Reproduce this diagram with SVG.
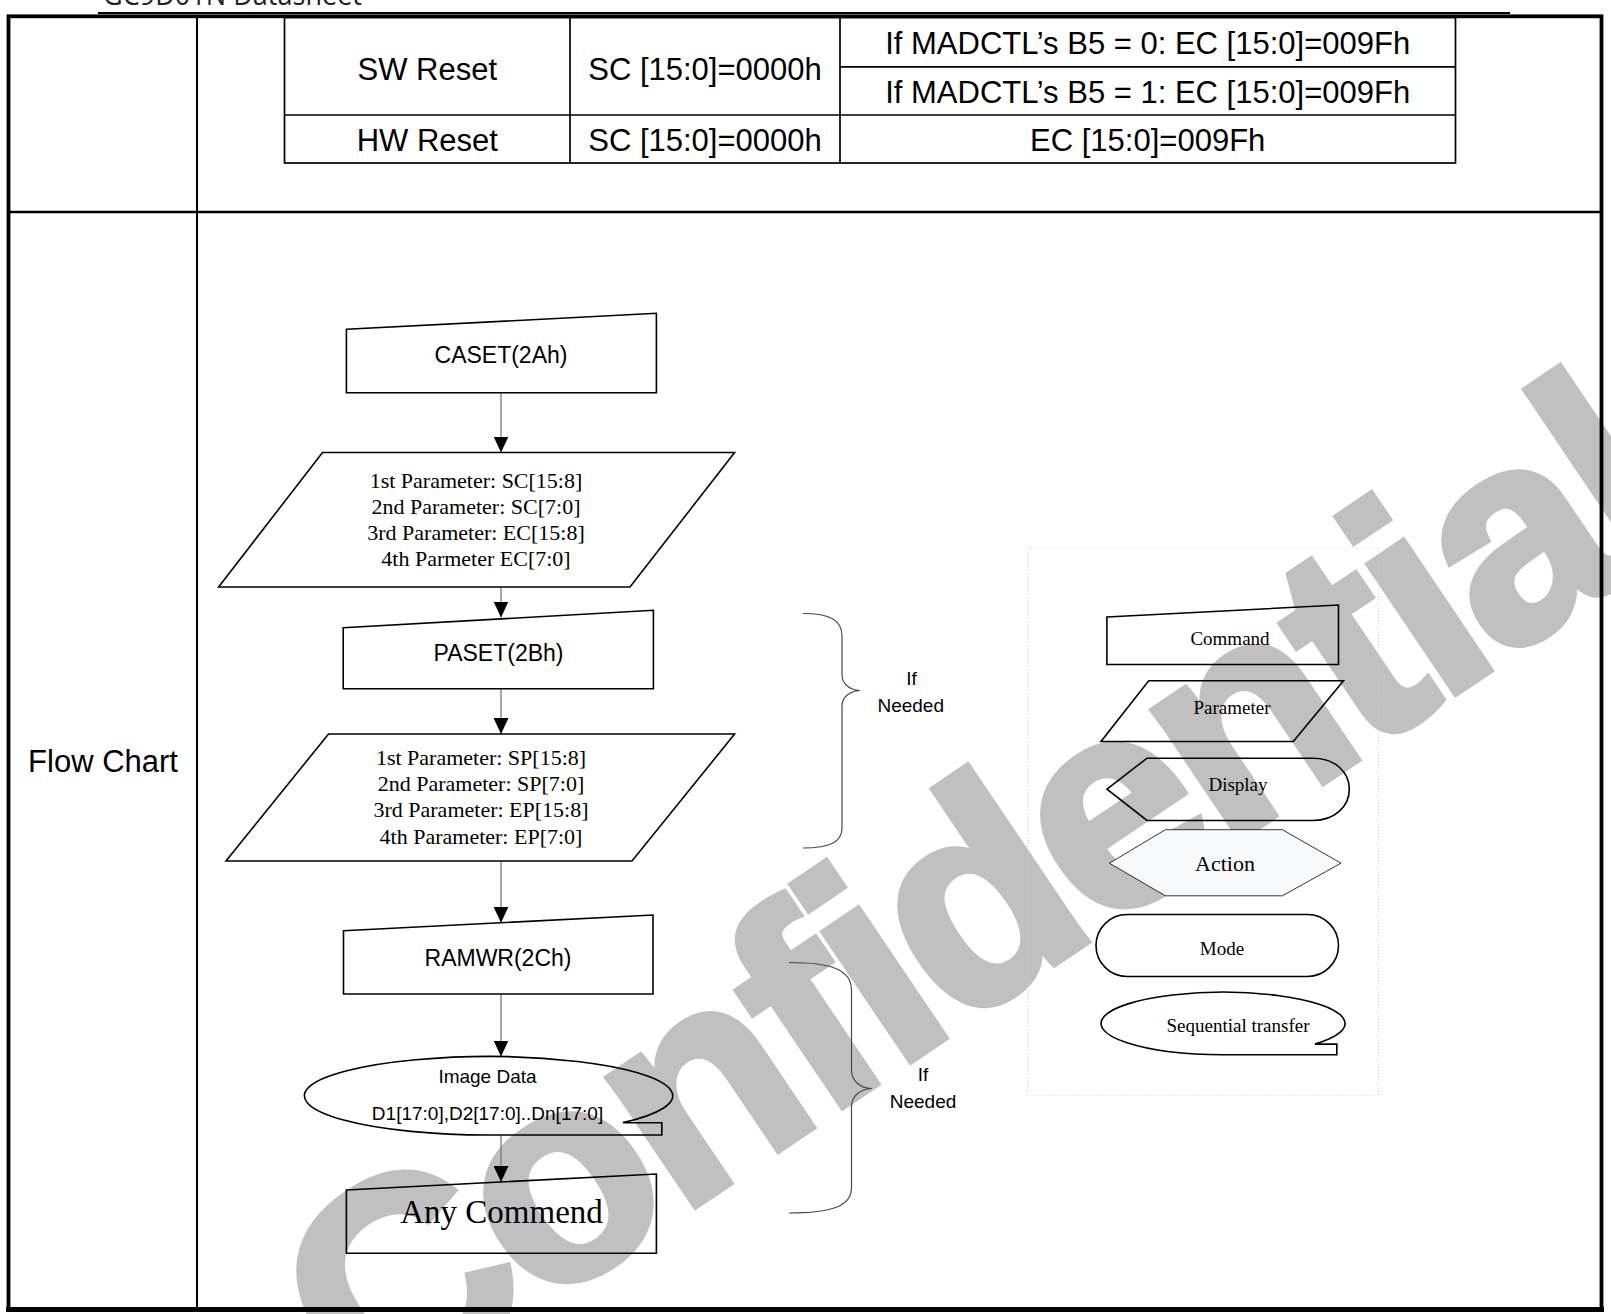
<svg xmlns="http://www.w3.org/2000/svg" width="1611" height="1314" viewBox="0 0 1611 1314">
<style>
.tb{font-family:"Liberation Sans",Arial,sans-serif;font-size:31px;fill:#000;text-anchor:middle}
.ss{font-family:"Liberation Sans",Arial,sans-serif;fill:#000;text-anchor:middle}
.sf{font-family:"Liberation Serif","Times New Roman",serif;fill:#000;text-anchor:middle}
.shape{fill:none;stroke:#000;stroke-width:1.6}
.conn{fill:none;stroke:#7a7a7a;stroke-width:1.3}
.brace{fill:none;stroke:#4a4a4a;stroke-width:1.2}
.tl{fill:none;stroke:#000;stroke-width:1.7}
.wm{font-family:"Liberation Sans",Arial,sans-serif;font-weight:bold;font-size:292px;letter-spacing:-8px;fill:#c0c0c0;stroke:#c0c0c0;stroke-width:8;stroke-linejoin:miter}
</style>
<defs>
<marker id="ah" markerUnits="userSpaceOnUse" markerWidth="16" markerHeight="15" viewBox="0 0 16 15" refX="16" refY="7.5" orient="auto">
<path d="M0,0 L16,7.5 L0,15 Z" fill="#000"/>
</marker>
</defs>
<rect width="1611" height="1314" fill="#fff"/>
<g id="watermark">
<text class="wm" transform="translate(369.5 1425.4) rotate(-34)">Confidential</text>
</g>
<g id="page">
<text x="103" y="5" font-family="'Open Sans','Liberation Sans',sans-serif" font-size="29" fill="#222" textLength="259" lengthAdjust="spacingAndGlyphs">GC9D01N Datasheet</text>
<line x1="98" y1="13" x2="1510" y2="13" stroke="#000" stroke-width="2"/>
<rect x="8.5" y="16.3" width="1593" height="1293" fill="none" stroke="#000" stroke-width="3.8"/>
<line x1="6" y1="1309.5" x2="1604" y2="1309.5" stroke="#000" stroke-width="5"/>
<line x1="197" y1="16" x2="197" y2="1309" stroke="#000" stroke-width="2"/>
<line x1="8.5" y1="212" x2="1601.5" y2="212" stroke="#000" stroke-width="2.6"/>
<text class="tb" x="103" y="772">Flow Chart</text>
</g>
<g id="reset-table">
<rect class="tl" x="284.5" y="17.5" width="1171" height="145.5"/>
<line class="tl" x1="570" y1="17.5" x2="570" y2="163"/>
<line class="tl" x1="840" y1="17.5" x2="840" y2="163"/>
<line class="tl" x1="840" y1="66.8" x2="1455.5" y2="66.8"/>
<line class="tl" x1="284.5" y1="115" x2="1455.5" y2="115"/>
<text class="tb" x="427.3" y="79.5">SW Reset</text>
<text class="tb" x="705" y="79.5">SC [15:0]=0000h</text>
<text class="tb" x="1147.7" y="54">If MADCTL’s B5 = 0: EC [15:0]=009Fh</text>
<text class="tb" x="1147.7" y="102.5">If MADCTL’s B5 = 1: EC [15:0]=009Fh</text>
<text class="tb" x="427.3" y="150.5">HW Reset</text>
<text class="tb" x="705" y="150.5">SC [15:0]=0000h</text>
<text class="tb" x="1147.7" y="150.5">EC [15:0]=009Fh</text>
</g>
<g id="connectors">
<path class="conn" d="M501 392.7 V452.5" marker-end="url(#ah)"/>
<path class="conn" d="M501 587 V617.5" marker-end="url(#ah)"/>
<path class="conn" d="M501 688.7 V734" marker-end="url(#ah)"/>
<path class="conn" d="M501 861 V922.7" marker-end="url(#ah)"/>
<path class="conn" d="M501 994 V1056.5" marker-end="url(#ah)"/>
<path class="conn" d="M501 1135 V1182" marker-end="url(#ah)"/>
<path class="brace" d="M803 613.5 C830 613.5 842 620 842 636 L842 675 C842 684 850 690 860 690.5 C850 691 842 697 842 706 L842 828 C842 842 830 848 803 848"/>
<path class="brace" d="M789 962.5 C832 962.5 851.5 970 851.5 990 L851.5 1070 C851.5 1081 860 1088 872 1088.5 C860 1089 851.5 1096 851.5 1107 L851.5 1188 C851.5 1206 832 1213 789 1213"/>
<text class="ss" x="911.5" y="685" font-size="19">If</text>
<text class="ss" x="910.7" y="711.5" font-size="19">Needed</text>
<text class="ss" x="923" y="1081" font-size="19">If</text>
<text class="ss" x="923" y="1107.5" font-size="19">Needed</text>
</g>
<g id="caset">
<polygon class="shape" points="346.4,329.3 656.4,313.3 656.4,392.7 346.4,392.7"/>
<text class="ss" x="501" y="362.5" font-size="23">CASET(2Ah)</text>
</g>
<g id="caset-params">
<polygon class="shape" points="322.5,452.5 734.6,452.5 630,587 218.6,587"/>
<text class="sf" x="476" y="487.5" font-size="22">1st Parameter: SC[15:8]</text>
<text class="sf" x="476" y="513.5" font-size="22">2nd Parameter: SC[7:0]</text>
<text class="sf" x="476" y="540" font-size="22">3rd Parameter: EC[15:8]</text>
<text class="sf" x="476" y="566" font-size="22">4th Parmeter EC[7:0]</text>
</g>
<g id="paset">
<polygon class="shape" points="343.2,627.7 653.4,610.3 653.4,688.7 343.2,688.7"/>
<text class="ss" x="498.5" y="660.5" font-size="23">PASET(2Bh)</text>
</g>
<g id="paset-params">
<polygon class="shape" points="328.5,734 734.6,734 632,861 226,861"/>
<text class="sf" x="481" y="765" font-size="22">1st Parameter: SP[15:8]</text>
<text class="sf" x="481" y="791" font-size="22">2nd Parameter: SP[7:0]</text>
<text class="sf" x="481" y="817" font-size="22">3rd Parameter: EP[15:8]</text>
<text class="sf" x="481" y="843.5" font-size="22">4th Parameter: EP[7:0]</text>
</g>
<g id="ramwr">
<polygon class="shape" points="343.5,930.7 653,915 653,994 343.5,994"/>
<text class="ss" x="498" y="965.5" font-size="23">RAMWR(2Ch)</text>
</g>
<g id="image-data">
<path class="shape" d="M487.8 1135 A184.2 39.2 0 1 1 623 1122.6 L661.8 1122.7 L661.8 1135 Z"/>
<text class="ss" x="487.5" y="1083" font-size="19">Image Data</text>
<text class="ss" x="487.5" y="1119.5" font-size="19">D1[17:0],D2[17:0]..Dn[17:0]</text>
</g>
<g id="any-command">
<polygon class="shape" points="346.4,1190 656.4,1174 656.4,1253.3 346.4,1253.3"/>
<text class="sf" x="501.5" y="1223" font-size="33">Any Commend</text>
</g>
<g id="legend">
<rect x="1027.5" y="548" width="351" height="547" fill="none" stroke="#cfcfcf" stroke-width="1" stroke-dasharray="1 2"/>
<g id="legend-command">
<polygon class="shape" points="1106.9,617 1338.5,605 1338.5,664.5 1106.9,664.5"/>
<text class="sf" x="1230" y="645" font-size="19">Command</text>
</g>
<g id="legend-parameter">
<polygon class="shape" points="1148.7,680.8 1343.5,680.8 1293.3,741.5 1101,741.5"/>
<text class="sf" x="1232" y="713.5" font-size="19">Parameter</text>
</g>
<g id="legend-display">
<path class="shape" d="M1107 789.2 L1147 758.2 L1313 758.2 C1335 758.2 1349.3 772 1349.3 789.2 C1349.3 806 1335 820.5 1313 820.5 L1147 820.5 Z"/>
<text class="sf" x="1238" y="791" font-size="19">Display</text>
</g>
<g id="legend-action">
<polygon points="1109.4,863.2 1165.4,829.7 1282.4,829.7 1341,863.2 1282.4,895.8 1165.4,895.8" fill="#f8f9fa" stroke="#000" stroke-width="0.8"/>
<text class="sf" x="1225" y="871" font-size="22">Action</text>
</g>
<g id="legend-mode">
<rect class="shape" x="1096" y="914.5" width="242.5" height="62" rx="31" ry="31"/>
<text class="sf" x="1222" y="955" font-size="19">Mode</text>
</g>
<g id="legend-sequential">
<path class="shape" d="M1223 1054.8 A122 31.3 0 1 1 1314.9 1044.1 L1336.8 1044.1 L1336.8 1054.8 Z"/>
<text class="sf" x="1238" y="1032" font-size="19">Sequential transfer</text>
</g>
</g>
</svg>
